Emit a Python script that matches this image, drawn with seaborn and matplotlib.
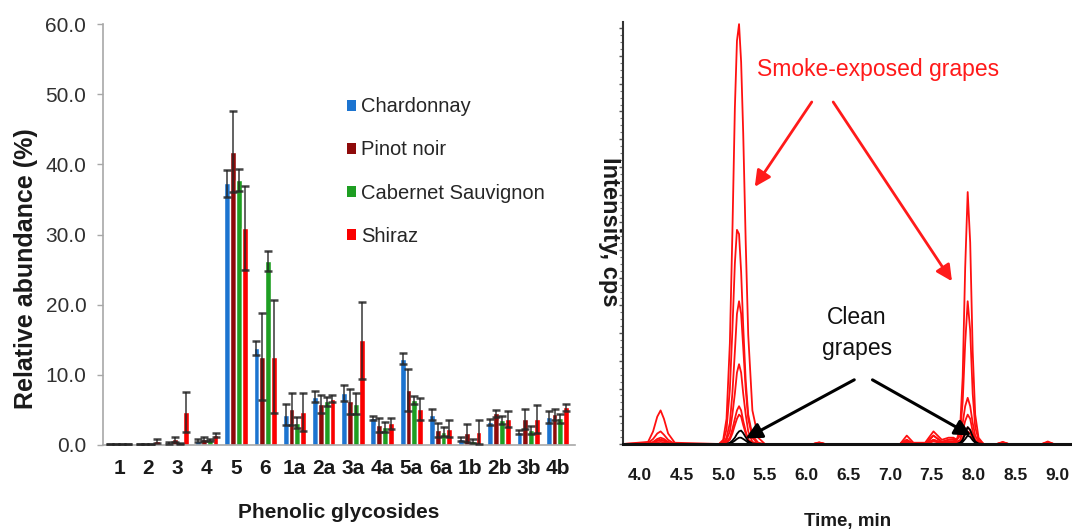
import matplotlib
matplotlib.use("Agg")
import matplotlib.pyplot as plt
from matplotlib.patches import Patch
from matplotlib.ticker import MultipleLocator, FixedLocator
import numpy as np
import pandas as pd
import seaborn as sns

# ---------------- left panel data ----------------
compounds = ["1", "2", "3", "4", "5", "6", "1a", "2a", "3a", "4a", "5a", "6a", "1b", "2b", "3b", "4b"]
varieties = ["Chardonnay", "Pinot noir", "Cabernet Sauvignon", "Shiraz"]
chardonnay = [0.1, 0.1, 0.3, 0.6, 37.3, 13.8, 4.3, 6.9, 7.4, 3.9, 12.3, 4.3, 0.9, 3.3, 1.9, 4.0]
chardonnay_err = [0.0, 0.0, 0.1, 0.2, 1.9, 1.0, 1.5, 0.8, 1.2, 0.3, 0.8, 0.8, 0.3, 0.4, 0.3, 0.8]
pinot_noir = [0.1, 0.1, 0.8, 0.9, 41.8, 12.6, 5.1, 5.8, 6.2, 2.8, 7.9, 2.1, 1.7, 4.5, 3.7, 4.4]
pinot_noir_err = [0.0, 0.0, 0.4, 0.3, 5.8, 6.2, 2.3, 1.3, 1.8, 1.0, 3.0, 1.0, 1.3, 0.5, 1.4, 0.8]
cabernet = [0.1, 0.2, 0.2, 0.7, 37.8, 26.2, 3.2, 6.2, 5.9, 2.6, 6.4, 1.9, 0.6, 3.6, 2.1, 3.8]
cabernet_err = [0.0, 0.0, 0.1, 0.2, 1.6, 1.4, 0.8, 0.7, 1.5, 0.7, 0.6, 0.6, 0.3, 0.6, 0.6, 0.6]
shiraz = [0.1, 0.6, 4.7, 1.4, 30.9, 12.6, 4.7, 6.6, 14.9, 3.1, 5.1, 2.3, 1.9, 3.7, 3.7, 5.4]
shiraz_err = [0.0, 0.3, 2.9, 0.3, 6.0, 8.0, 2.7, 0.5, 5.5, 0.8, 1.6, 1.2, 1.7, 1.2, 2.0, 0.5]
y_ticks = [0, 10, 20, 30, 40, 50, 60]

# ---------------- right panel data (chromatogram) ----------------
time_min = [3.80, 4.10, 4.16, 4.21, 4.25, 4.29, 4.34, 4.42, 4.95,
            5.00, 5.04, 5.08, 5.11, 5.14, 5.165, 5.19, 5.215, 5.24, 5.27, 5.30, 5.35, 5.42, 5.50,
            6.08, 6.15, 6.22,
            7.12, 7.20, 7.28, 7.42, 7.52, 7.62, 7.70, 7.76,
            7.80, 7.84, 7.87, 7.90, 7.93, 7.96, 7.99, 8.02, 8.06, 8.12,
            8.28, 8.35, 8.42, 8.82, 8.89, 8.96, 9.18]
smoke_1 = [0, 0, 0.2, 0.4, 0.5, 0.4, 0.2, 0, 0,
           1, 6, 24, 50, 80, 96, 100, 91, 74, 48, 26, 8, 1.5, 0,
           0, 0.4, 0,
           0, 0.5, 0, 0, 1, 0.3, 0.5, 0.6,
           1, 4, 16, 42, 60, 48, 22, 7, 1.5, 0,
           0, 0.5, 0, 0, 0.6, 0, 0]
smoke_2 = [0, 0, 0.3, 0.8, 1, 0.8, 0.3, 0, 0,
           0.5, 3.5, 13, 27, 43, 51, 50, 41, 28, 15, 7, 2, 0.3, 0,
           0, 0.3, 0,
           0, 1, 0, 0, 2, 0.5, 1, 1.2,
           1, 3, 10, 24, 34, 27, 12, 4, 1, 0,
           0, 0.4, 0, 0, 0.4, 0, 0]
smoke_3 = [0, 0.5, 3, 6.5, 8, 6, 2.5, 0.3, 0,
           0, 1.5, 5, 12, 22, 31, 34, 31, 23, 13, 6, 1.5, 0, 0,
           0, 0.3, 0,
           0, 2, 0.3, 0.3, 3, 1, 1.5, 1.5,
           1, 2, 5, 9, 11, 9, 5, 2, 0.5, 0,
           0, 0.3, 0, 0, 0.3, 0, 0]
smoke_4 = [0, 0.2, 1.2, 2.5, 3, 2.2, 1, 0, 0,
           0, 1, 3, 7, 12, 17, 19, 17, 12, 7, 3, 0.5, 0, 0,
           0, 0.2, 0,
           0, 1, 0, 0, 2, 0.5, 1, 1,
           0.5, 1, 3, 5.5, 7, 6, 3, 1, 0.3, 0,
           0, 0.2, 0, 0, 0.2, 0, 0]
smoke_5 = [0, 0, 0.5, 1.2, 1.5, 1.2, 0.5, 0, 0,
           0, 0.5, 1.5, 3.5, 6, 8, 9, 8, 5.5, 3, 1, 0.3, 0, 0,
           0, 0, 0,
           0, 0.5, 0, 0, 1, 0.3, 0.5, 0.6,
           0.3, 0.6, 1.5, 3, 4, 3.4, 1.8, 0.6, 0, 0,
           0, 0, 0, 0, 0, 0, 0]
smoke_6 = [0, 0, 0.3, 0.8, 1, 0.8, 0.3, 0, 0,
           0, 0.3, 1, 2.5, 4.5, 6, 7, 6.5, 4.5, 2.5, 1, 0.2, 0, 0,
           0, 0, 0,
           0, 0.3, 0, 0, 0.6, 0.2, 0.3, 0.4,
           0.2, 0.5, 1.2, 2.3, 3, 2.5, 1.3, 0.4, 0, 0,
           0, 0, 0, 0, 0, 0, 0]
clean_1 = [0, 0, 0, 0, 0, 0, 0, 0, 0,
           0, 0, 0.3, 0.8, 1.5, 2.4, 3, 3.2, 2.6, 1.6, 0.7, 0.1, 0, 0,
           0, 0, 0,
           0, 0, 0, 0, 0, 0, 0, 0,
           0, 0.3, 1, 2.5, 4, 3.3, 1.8, 0.6, 0.1, 0,
           0, 0, 0, 0, 0, 0, 0]
clean_2 = [0, 0, 0, 0, 0, 0, 0, 0, 0,
           0, 0, 0.1, 0.4, 0.8, 1.2, 1.5, 1.5, 1.2, 0.8, 0.3, 0, 0, 0,
           0, 0, 0,
           0, 0, 0, 0, 0, 0, 0, 0,
           0, 0.1, 0.5, 1.2, 2, 1.7, 0.9, 0.3, 0, 0,
           0, 0, 0, 0, 0, 0, 0]
time_ticks = [4.0, 4.5, 5.0, 5.5, 6.0, 6.5, 7.0, 7.5, 8.0, 8.5, 9.0]

# ---------------- styling ----------------
sns.set_theme(style="white")
plt.rcParams["font.family"] = ["Liberation Sans", "DejaVu Sans"]

colors = {"Chardonnay": "#1C74D0", "Pinot noir": "#8E0A0A",
          "Cabernet Sauvignon": "#1E9E22", "Shiraz": "#FA0000"}

fig = plt.figure(figsize=(10.72, 5.29), dpi=100)
ax1 = fig.add_axes([0.0961, 0.1588, 0.4403, 0.7958])
ax2 = fig.add_axes([0.5812, 0.1607, 0.4188, 0.7977])

# ---------------- left: bar chart ----------------
vals = [chardonnay, pinot_noir, cabernet, shiraz]
errs = [chardonnay_err, pinot_noir_err, cabernet_err, shiraz_err]
rows = []
for v, series in zip(varieties, vals):
    for c, y in zip(compounds, series):
        rows.append({"compound": c, "variety": v, "abundance": y})
df = pd.DataFrame(rows)

sns.barplot(data=df, x="compound", y="abundance", hue="variety", order=compounds,
            hue_order=varieties, palette=colors, errorbar=None, saturation=1,
            width=0.8, ax=ax1, legend=False)

for cont, e in zip(ax1.containers, errs):
    xs = [p.get_x() + p.get_width() / 2 for p in cont]
    ys = [p.get_height() for p in cont]
    ax1.errorbar(xs, ys, yerr=e, fmt="none", ecolor="#262626", elinewidth=1.2,
                 capsize=3, capthick=1.8, alpha=0.85, zorder=3)

ax1.set_xlim(-0.55, 15.6)
ax1.set_ylim(0, 60)
ax1.yaxis.set_major_locator(FixedLocator(y_ticks))
ax1.set_yticklabels([f"{t:.1f}" for t in y_ticks], fontsize=15, color="#303030")
ax1.set_xticks(range(len(compounds)))
ax1.set_xticklabels(compounds, fontsize=15, fontweight="bold", color="#1a1a1a")
ax1.tick_params(axis="y", length=4, width=1, color="#A8A8A8", pad=8, left=True)
ax1.tick_params(axis="x", length=0, pad=10)
for s in ["top", "right"]:
    ax1.spines[s].set_visible(False)
for s in ["left", "bottom"]:
    ax1.spines[s].set_color("#A8A8A8")
    ax1.spines[s].set_linewidth(1.2)
ax1.set_xlabel("Phenolic glycosides", fontsize=15, fontweight="bold", color="#1a1a1a", labelpad=18)
ax1.set_ylabel("")
fig.text(26 / 1072, 1 - 269 / 529, "Relative abundance (%)", fontsize=18, fontweight="bold",
         rotation=90, ha="center", va="center", color="#1a1a1a")

handles = [Patch(facecolor=colors[v], edgecolor="none", label=v) for v in varieties]
ax1.legend(handles=handles, loc="upper left", bbox_to_anchor=(0.50, 0.845), frameon=False,
           fontsize=14.5, handlelength=0.45, handleheight=0.45, handletextpad=0.25,
           labelspacing=1.2, borderaxespad=0, labelcolor="#262626")

# ---------------- right: chromatogram ----------------
traces = {"smoke_1": smoke_1, "smoke_2": smoke_2, "smoke_3": smoke_3,
          "smoke_4": smoke_4, "smoke_5": smoke_5, "smoke_6": smoke_6,
          "clean_1": clean_1, "clean_2": clean_2}
rows = []
for name, series in traces.items():
    for t, y in zip(time_min, series):
        rows.append({"time": t, "intensity": y, "trace": name})
cdf = pd.DataFrame(rows)
pal = {k: ("#FF1010" if k.startswith("smoke") else "#000000") for k in traces}
sns.lineplot(data=cdf, x="time", y="intensity", hue="trace", hue_order=list(traces),
             palette=pal, estimator=None, sort=False, linewidth=1.3, legend=False, ax=ax2)

ax2.set_xlim(3.8, 9.18)
ax2.set_ylim(0, 100.5)
ax2.set_xticks(time_ticks)
ax2.set_xticklabels([f"{t:.1f}" for t in time_ticks], fontsize=12.5, fontweight="bold",
                    color="#1a1a1a")
ax2.tick_params(axis="x", length=0, pad=17)
ax2.yaxis.set_major_locator(MultipleLocator(6.6))
ax2.yaxis.set_minor_locator(MultipleLocator(1.65))
ax2.set_yticklabels([])
ax2.tick_params(axis="y", which="major", length=3, width=1, color="#555555", left=True)
ax2.tick_params(axis="y", which="minor", length=2, width=0.8, color="#777777", left=True)
for s in ["top", "right"]:
    ax2.spines[s].set_visible(False)
ax2.spines["bottom"].set_color("#111111")
ax2.spines["bottom"].set_linewidth(2.2)
ax2.spines["left"].set_color("#333333")
ax2.spines["left"].set_linewidth(1.5)
ax2.set_xlabel("Time, min", fontsize=13.5, fontweight="bold", color="#1a1a1a", labelpad=22)
ax2.set_ylabel("")
fig.text(610 / 1072, 1 - 232 / 529, "Intensity, cps", fontsize=17, fontweight="bold",
         rotation=270, ha="center", va="center", color="#1a1a1a")

ax2.text(6.85, 89.3, "Smoke-exposed grapes", color="#FF1A1A", fontsize=16.5,
         ha="center", va="center")
ax2.annotate("", xy=(5.36, 60.7), xytext=(6.08, 82.0),
             arrowprops=dict(arrowstyle="-|>", color="#FF1A1A", lw=2, mutation_scale=24))
ax2.annotate("", xy=(7.76, 38.2), xytext=(6.30, 82.0),
             arrowprops=dict(arrowstyle="-|>", color="#FF1A1A", lw=2, mutation_scale=24))
ax2.text(6.6, 26.5, "Clean\ngrapes", color="#111111", fontsize=16.5,
         ha="center", va="center", linespacing=1.45)
ax2.annotate("", xy=(5.24, 1.0), xytext=(6.60, 15.6),
             arrowprops=dict(arrowstyle="-|>", color="#000000", lw=2.2, mutation_scale=24))
ax2.annotate("", xy=(8.0, 1.7), xytext=(6.76, 15.6),
             arrowprops=dict(arrowstyle="-|>", color="#000000", lw=2.2, mutation_scale=24))

fig.savefig("out.png", dpi=100)
